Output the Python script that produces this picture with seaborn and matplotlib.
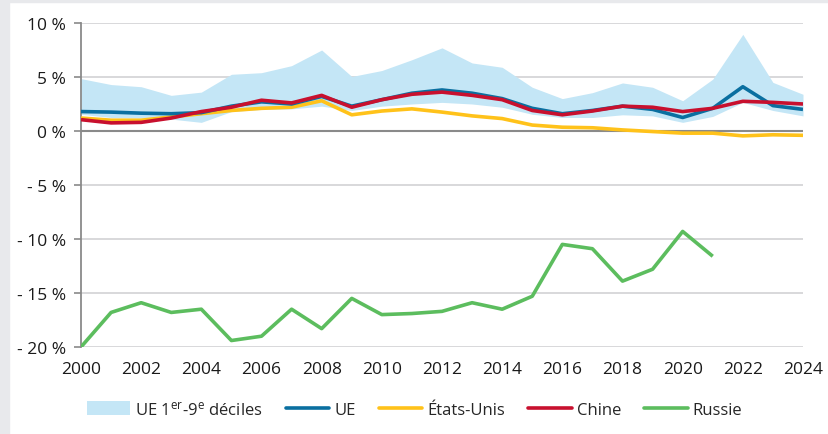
import matplotlib
matplotlib.use("Agg")
import matplotlib.pyplot as plt
import matplotlib.patches as mpatches
from matplotlib.lines import Line2D
import seaborn as sns
import pandas as pd

years = list(range(2000, 2025))
ue_p90 = [4.85, 4.3, 4.1, 3.3, 3.6, 5.25, 5.4, 6.05, 7.5, 5.05, 5.6, 6.6, 7.7,
          6.3, 5.9, 4.05, 3.0, 3.55, 4.45, 4.05, 2.8, 4.8, 8.95, 4.5, 3.4]
ue_p10 = [1.55, 1.25, 1.2, 1.1, 0.8, 1.8, 2.0, 2.05, 2.3, 1.9, 2.3, 2.5, 2.65,
          2.5, 2.2, 1.55, 1.25, 1.25, 1.5, 1.4, 0.8, 1.35, 2.65, 1.9, 1.4]
ue = [1.8, 1.75, 1.65, 1.6, 1.7, 2.3, 2.7, 2.5, 3.2, 2.3, 2.9, 3.5, 3.8,
      3.5, 3.0, 2.1, 1.6, 1.9, 2.3, 2.0, 1.25, 2.1, 4.1, 2.35, 2.0]
usa = [1.2, 1.0, 1.0, 1.3, 1.6, 1.9, 2.1, 2.2, 2.8, 1.5, 1.85, 2.05, 1.75,
       1.4, 1.15, 0.55, 0.35, 0.3, 0.1, -0.05, -0.2, -0.2, -0.45, -0.35, -0.4]
chine = [1.05, 0.75, 0.8, 1.2, 1.8, 2.2, 2.85, 2.6, 3.3, 2.2, 2.9, 3.4, 3.6,
         3.3, 2.9, 1.9, 1.5, 1.85, 2.3, 2.2, 1.8, 2.1, 2.75, 2.65, 2.5]
russie_years = list(range(2000, 2022))
russie = [-20.0, -16.8, -15.9, -16.8, -16.5, -19.4, -19.0, -16.5, -18.3, -15.5,
          -17.0, -16.9, -16.7, -15.9, -16.5, -15.3, -10.5, -10.9, -13.9, -12.8,
          -9.3, -11.6]

yticks = [10, 5, 0, -5, -10, -15, -20]
ytick_labels = ["10 %", "5 %", "0 %", "- 5 %", "- 10 %", "- 15 %", "- 20 %"]
xticks = list(range(2000, 2025, 2))

c_band = "#c4e6f6"
c_ue = "#0a6fa0"
c_us = "#ffc21a"
c_cn = "#c8102e"
c_ru = "#5cbd5e"

df = pd.DataFrame({"year": years, "ue": ue, "usa": usa, "chine": chine})
df_ru = pd.DataFrame({"year": russie_years, "russie": russie})

sns.set_theme(style="white")
plt.rcParams["font.family"] = ["Open Sans", "DejaVu Sans"]
plt.rcParams["mathtext.fontset"] = "custom"
plt.rcParams["mathtext.rm"] = "Open Sans"
plt.rcParams["mathtext.it"] = "Open Sans"

fig = plt.figure(figsize=(8.29, 4.35), dpi=100)
fig.patches.append(mpatches.Rectangle((0, 0), 0.011, 1, transform=fig.transFigure,
                                      color="#e8e9ec", zorder=0))
fig.patches.append(mpatches.Rectangle((0, 0.994), 1, 0.006, transform=fig.transFigure,
                                      color="#e8e9ec", zorder=0))
ax = fig.add_axes([81 / 829, 1 - 348 / 435, (803 - 81) / 829, (348 - 24) / 435])

for y in yticks:
    if y != 0:
        ax.axhline(y, color="#d5d6d8", lw=1.3, zorder=0)
ax.axhline(0, color="#8a8a8a", lw=1.5, zorder=1)

ax.fill_between(years, ue_p10, ue_p90, color=c_band, lw=0, zorder=2)
lw = 2.6
sns.lineplot(data=df, x="year", y="usa", color=c_us, lw=lw, ax=ax, zorder=3)
sns.lineplot(data=df, x="year", y="ue", color=c_ue, lw=lw, ax=ax, zorder=4)
sns.lineplot(data=df, x="year", y="chine", color=c_cn, lw=lw, ax=ax, zorder=5)
sns.lineplot(data=df_ru, x="year", y="russie", color=c_ru, lw=lw, ax=ax, zorder=5)
for l in ax.lines:
    l.set_solid_joinstyle("round")
    l.set_solid_capstyle("butt")

ax.set_xlim(2000, 2024)
ax.set_ylim(-20, 10)
ax.set_xticks(xticks)
ax.set_xticklabels([str(x) for x in xticks], fontsize=12.5, color="#1a1a1a")
ax.set_yticks(yticks)
ax.set_yticklabels(ytick_labels, fontsize=12.5, color="#1a1a1a")
ax.set_xlabel("")
ax.set_ylabel("")
for s in ["top", "right", "bottom"]:
    ax.spines[s].set_visible(False)
ax.spines["left"].set_color("#8a8a8a")
ax.spines["left"].set_linewidth(1.3)
ax.tick_params(axis="y", which="both", length=5, width=1.2, color="#8a8a8a",
               left=True, pad=6)
ax.tick_params(axis="x", length=0, pad=10)

handles = [
    mpatches.Patch(color=c_band, lw=0),
    Line2D([], [], color=c_ue, lw=lw),
    Line2D([], [], color=c_us, lw=lw),
    Line2D([], [], color=c_cn, lw=lw),
    Line2D([], [], color=c_ru, lw=lw),
]
labels = ["UE 1$^{\\mathrm{er}}$-9$^{\\mathrm{e}}$ déciles", "UE", "États-Unis",
          "Chine", "Russie"]
fig.legend(handles, labels, loc="center", bbox_to_anchor=(0.5, 410 / 435 * 0 + 1 - 410 / 435),
           ncol=5, frameon=False, fontsize=12, handlelength=2.6, handletextpad=0.3,
           columnspacing=1.4, handleheight=0.9)

fig.savefig("out.png", dpi=100, facecolor="white")
